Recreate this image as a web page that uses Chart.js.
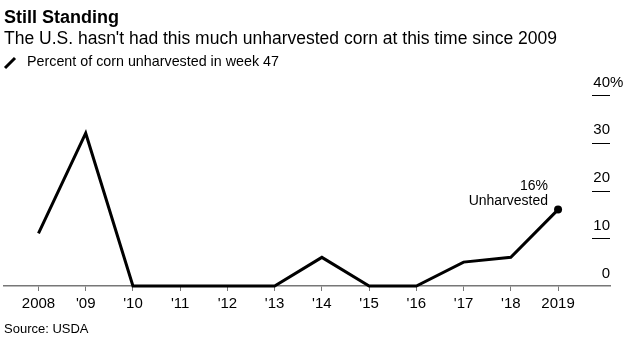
<!DOCTYPE html>
<html>
<head>
<meta charset="utf-8">
<script src="https://cdn.jsdelivr.net/npm/chart.js@4.4.1/dist/chart.umd.min.js"></script>
<style>
  html, body { margin: 0; padding: 0; background: #fff; }
  #wrap { position: relative; width: 630px; height: 344px; }
</style>
</head>
<body>
<div id="wrap"><canvas id="cornChart" width="630" height="344"></canvas></div>
<script>
// Percent of corn still unharvested in week 47, USDA
const years = [2008, 2009, 2010, 2011, 2012, 2013, 2014, 2015, 2016, 2017, 2018, 2019];
const yearLabels = ["2008", "'09", "'10", "'11", "'12", "'13", "'14", "'15", "'16", "'17", "'18", "2019"];
const unharvested = [11, 32, 0, 0, 0, 0, 6, 0, 0, 5, 6, 16];
const yTicks = [0, 10, 20, 30, 40];

const FONT = '"Liberation Sans", Arial, Helvetica, sans-serif';

// headline, subhead, key and source line
const headerText = {
    id: "headerText",
    afterDraw(chart) {
        const ctx = chart.ctx;
        ctx.save();
        ctx.fillStyle = "#000";
        ctx.textAlign = "left";
        ctx.textBaseline = "alphabetic";

        ctx.font = "bold 18px " + FONT;
        ctx.fillText("Still Standing", 4, 23);

        ctx.font = "17.5px " + FONT;
        ctx.fillText("The U.S. hasn't had this much unharvested corn at this time since 2009", 4, 44);

        // pencil-style line key
        ctx.strokeStyle = "#000";
        ctx.lineWidth = 3;
        ctx.lineCap = "butt";
        ctx.beginPath();
        ctx.moveTo(5, 68);
        ctx.lineTo(15, 58);
        ctx.stroke();

        ctx.font = "14.3px " + FONT;
        ctx.fillText("Percent of corn unharvested in week 47", 27, 66);

        ctx.font = "13px " + FONT;
        ctx.fillText("Source: USDA", 4, 333);
        ctx.restore();
    },
};

// right-hand value labels sitting above short rules
const valueAxis = {
    id: "valueAxis",
    beforeDatasetsDraw(chart) {
        const ctx = chart.ctx;
        const y = chart.scales.y;
        const right = chart.chartArea.right;
        ctx.save();
        ctx.font = "15px " + FONT;
        ctx.fillStyle = "#000";
        ctx.textBaseline = "alphabetic";
        yTicks.forEach((v, i) => {
            const py = y.getPixelForValue(v);
            if (v !== 0) {
                ctx.strokeStyle = "#000";
                ctx.lineWidth = 1;
                ctx.beginPath();
                ctx.moveTo(right - 18, Math.round(py) + 0.5);
                ctx.lineTo(right, Math.round(py) + 0.5);
                ctx.stroke();
            }
            ctx.textAlign = "right";
            ctx.fillText(String(v), right, py - 8.5);
            if (i === yTicks.length - 1) {
                ctx.textAlign = "left";
                ctx.fillText("%", right, py - 8.5);
            }
        });
        ctx.restore();
    },
};

// callout next to the latest point
const lastLabel = {
    id: "lastLabel",
    afterDatasetsDraw(chart) {
        const meta = chart.getDatasetMeta(0);
        const last = meta.data[meta.data.length - 1];
        const ctx = chart.ctx;
        ctx.save();
        ctx.font = "14px " + FONT;
        ctx.fillStyle = "#000";
        ctx.textAlign = "right";
        ctx.textBaseline = "alphabetic";
        ctx.fillText(unharvested[unharvested.length - 1] + "%", last.x - 10, last.y - 20);
        ctx.fillText("Unharvested", last.x - 10, last.y - 5);
        ctx.restore();
    },
};

const ctx = document.getElementById("cornChart").getContext("2d");

new Chart(ctx, {
    type: "line",
    data: {
        datasets: [
            {
                label: "Percent of corn unharvested in week 47",
                data: years.map((yr, i) => ({ x: yr, y: unharvested[i] })),
                borderColor: "#000",
                borderWidth: 3,
                tension: 0,
                fill: false,
                clip: false,
                pointRadius: years.map((yr, i) => (i === years.length - 1 ? 4 : 0)),
                pointBackgroundColor: "#000",
                pointBorderWidth: 0,
                borderJoinStyle: "miter",
            },
        ],
    },
    options: {
        responsive: false,
        animation: false,
        devicePixelRatio: 1,
        layout: {
            padding: { left: 4, right: 20, top: 95, bottom: 0 },
        },
        plugins: {
            legend: { display: false },
            tooltip: { enabled: false },
        },
        scales: {
            x: {
                type: "linear",
                min: 2007.27,
                max: 2020.1,
                afterBuildTicks: (axis) => {
                    axis.ticks = years.map((v) => ({ value: v }));
                },
                afterFit: (axis) => {
                    axis.height = 58;
                },
                ticks: {
                    callback: (v) => yearLabels[years.indexOf(v)],
                    color: "#000",
                    font: { size: 15, family: FONT },
                    padding: 4,
                    maxRotation: 0,
                    autoSkip: false,
                },
                grid: {
                    drawOnChartArea: false,
                    drawTicks: true,
                    tickLength: 5,
                    color: "#777",
                    lineWidth: 1,
                },
                border: {
                    color: "#777",
                    width: 1.5,
                },
            },
            y: {
                display: false,
                min: 0,
                max: 40,
            },
        },
    },
    plugins: [headerText, valueAxis, lastLabel],
});
</script>
</body>
</html>
